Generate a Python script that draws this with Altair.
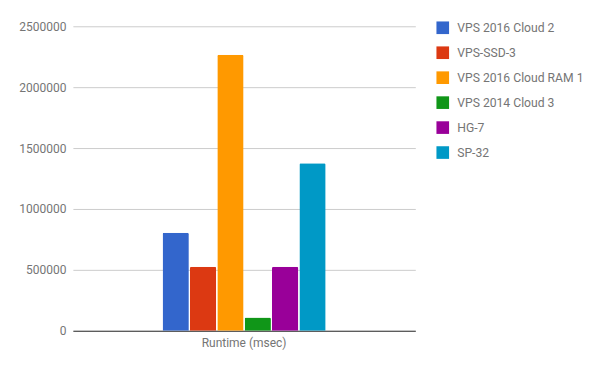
import altair as alt
import pandas as pd

category = ["Runtime (msec)"]
series = ["VPS 2016 Cloud 2", "VPS-SSD-3", "VPS 2016 Cloud RAM 1", "VPS 2014 Cloud 3", "HG-7", "SP-32"]
values = [804000, 526000, 2266000, 109000, 526000, 1376000]
colors = ["#3366cc", "#dc3912", "#ff9900", "#109618", "#990099", "#0099c6"]
y_ticks = [0, 500000, 1000000, 1500000, 2000000, 2500000]

df = pd.DataFrame({
    "category": category * len(series),
    "series": series,
    "value": values,
})

font = "Roboto"
gray = "#757575"

chart = alt.Chart(df).mark_bar(
    cornerRadiusTopLeft=1.5, cornerRadiusTopRight=1.5
).encode(
    x=alt.X("category:N", title=None,
            scale=alt.Scale(paddingInner=0, paddingOuter=0.55),
            axis=alt.Axis(labelAngle=0, ticks=False, labelPadding=7, domainColor="#333333",
                          domainWidth=1, labelFont=font, labelFontSize=12, labelColor=gray)),
    xOffset=alt.XOffset("series:N", sort=series,
                        scale=alt.Scale(paddingInner=0.04, paddingOuter=0)),
    y=alt.Y("value:Q", title=None,
            scale=alt.Scale(domain=[0, 2500000], nice=False),
            axis=alt.Axis(values=y_ticks, format="d", ticks=False, domain=False, labelPadding=7,
                          gridColor="#cccccc", labelFont=font, labelFontSize=12, labelColor=gray)),
    color=alt.Color("series:N", sort=series,
                    scale=alt.Scale(domain=series, range=colors),
                    legend=alt.Legend(title=None, orient="none", legendX=364, legendY=-5,
                                      symbolType="square", symbolSize=160, symbolStrokeWidth=0,
                                      symbolOpacity=1, labelFont=font, labelFontSize=12.2,
                                      labelColor=gray, labelOffset=8, rowPadding=12)),
).properties(
    width=343, height=305,
    autosize=alt.AutoSizeParams(type="none"),
    padding={"left": 65, "top": 18, "right": 180, "bottom": 30},
).configure_view(stroke=None)

chart.save("out.html", embed_options={"renderer": "svg", "actions": False})
